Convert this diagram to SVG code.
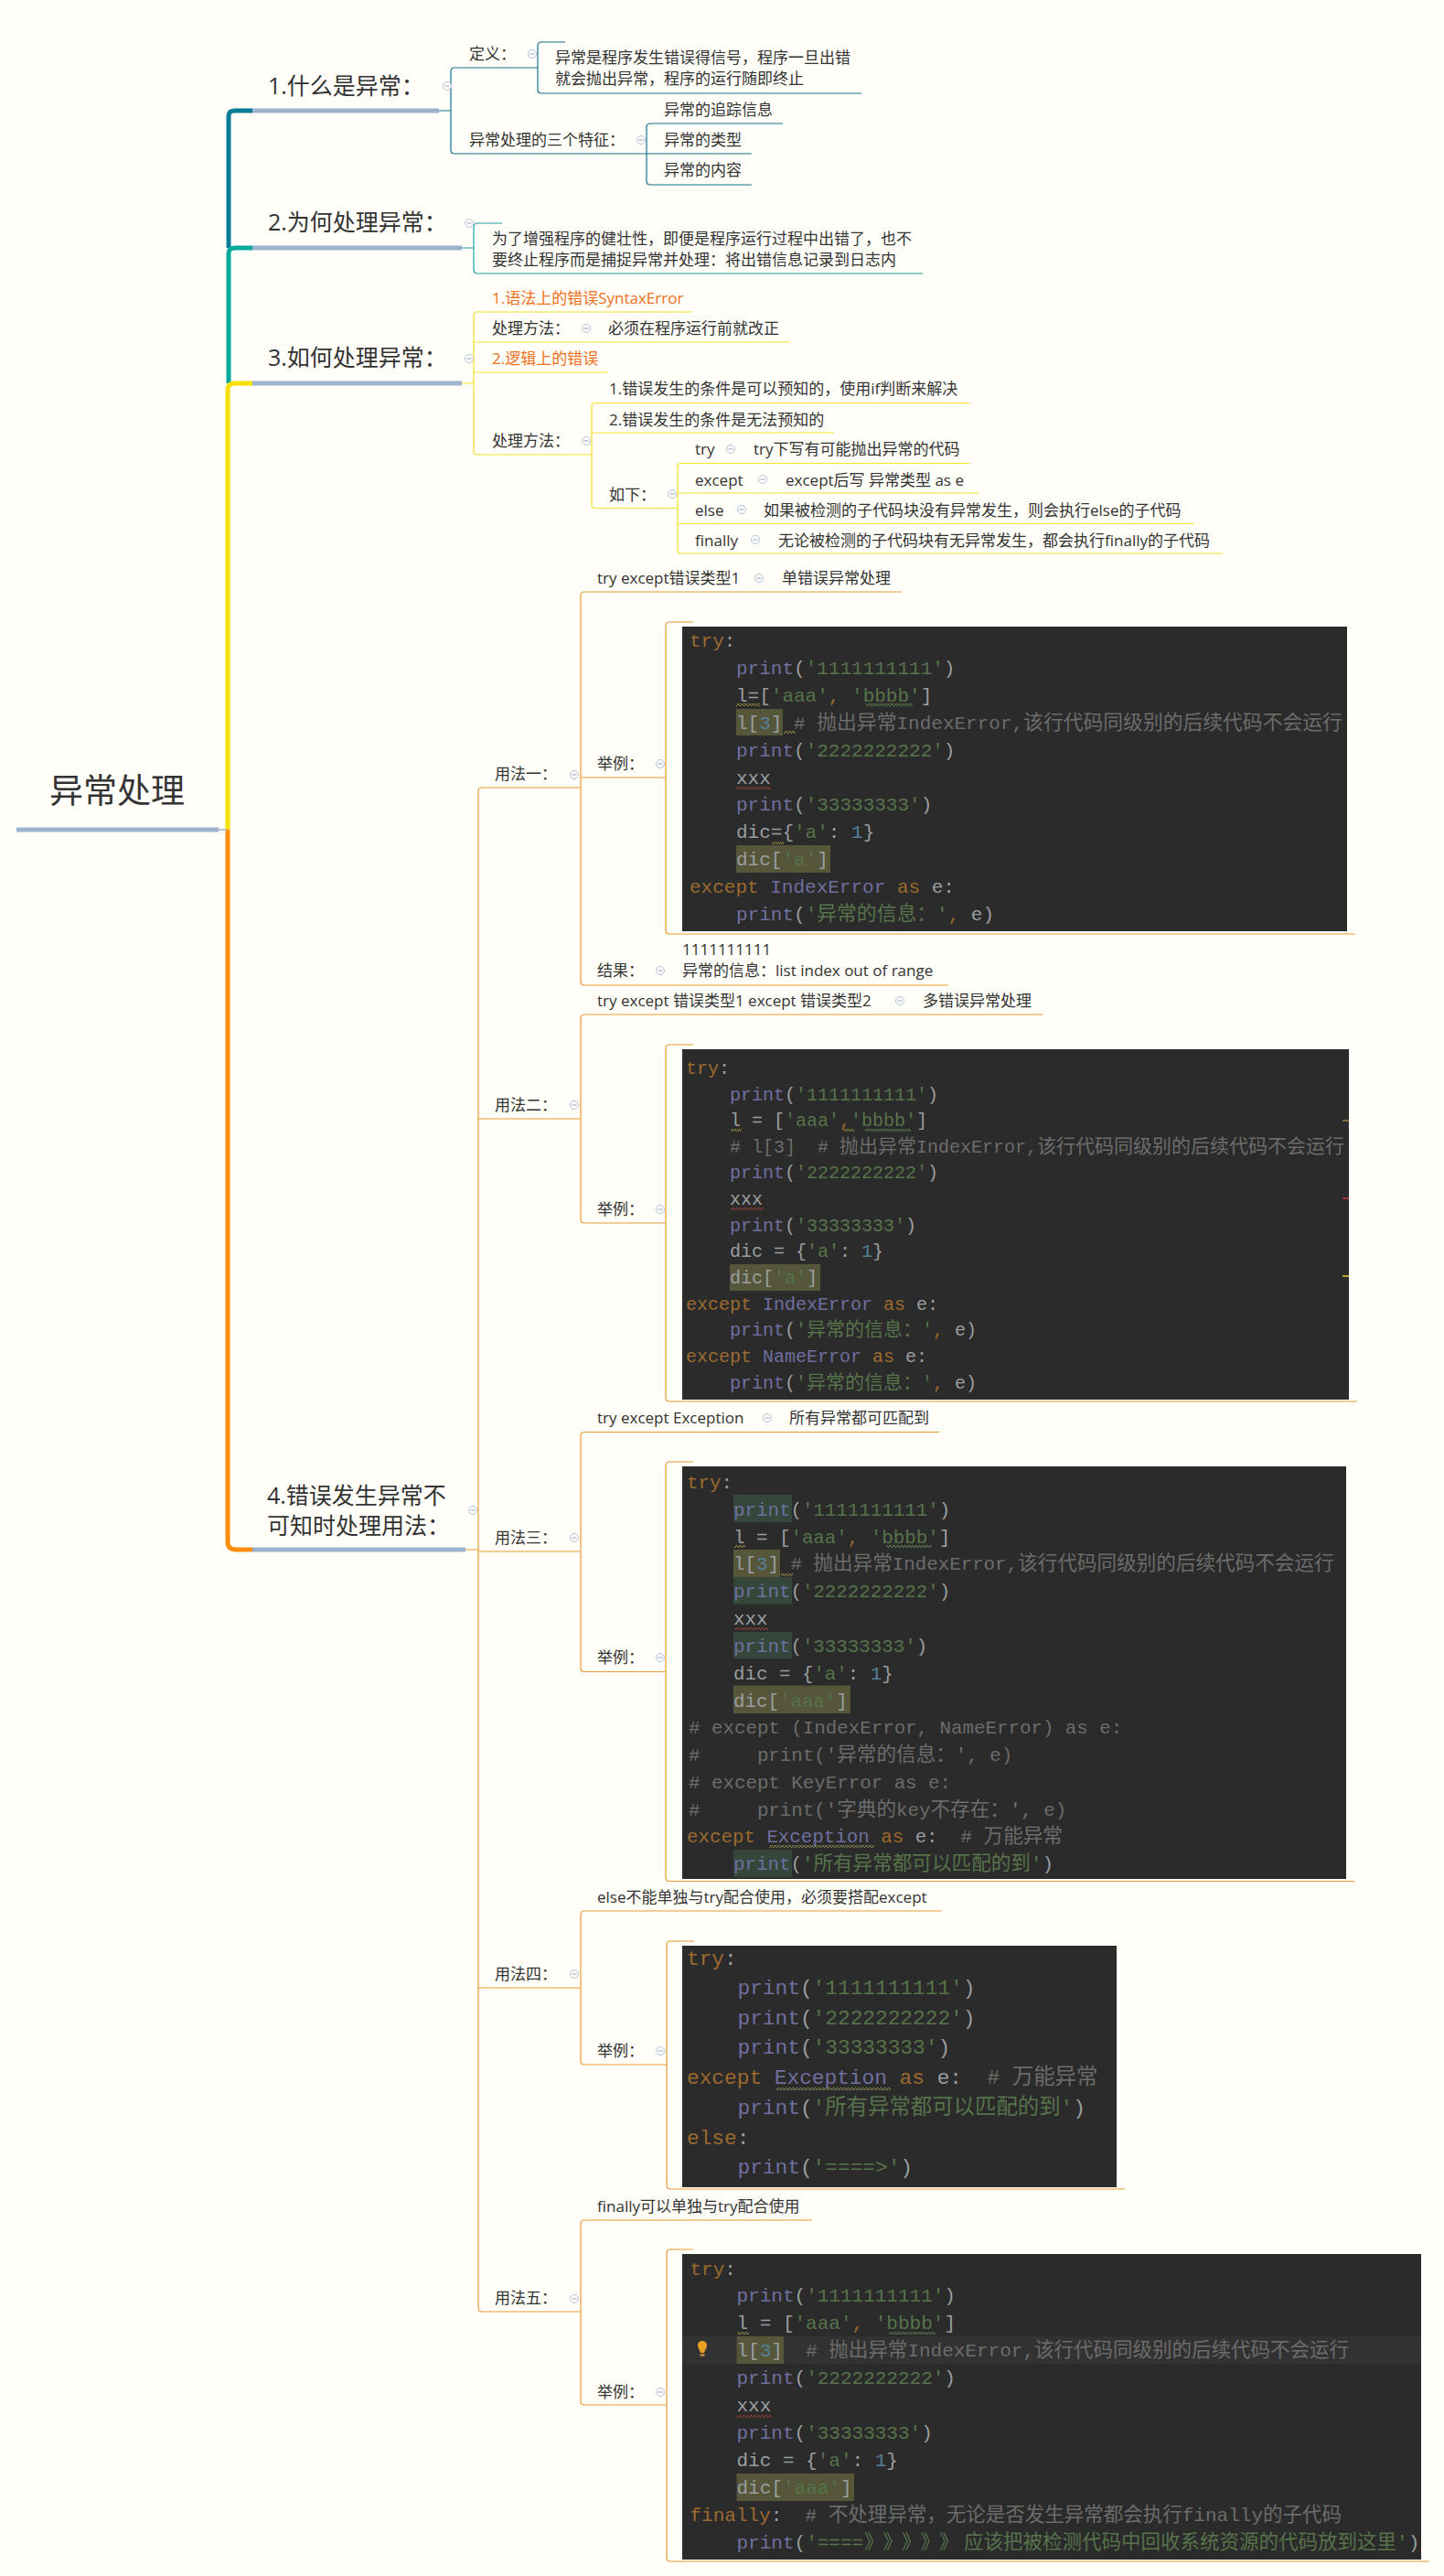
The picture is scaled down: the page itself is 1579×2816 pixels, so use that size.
<svg xmlns="http://www.w3.org/2000/svg" width="1579" height="2816" viewBox="0 0 1579 2816">
<style>
text{font-family:"Open Sans","Noto Sans CJK SC",sans-serif;fill:#333;font-size:17px;white-space:pre}
.root{font-size:37px}
.t{font-size:25px}
.o{fill:#f0701e}
.u{fill:#9db2cc}
.f{fill:none;stroke-width:1.2}
.c-a{stroke:#15728c}.c-b{stroke:#1f9ea2}.c-c{stroke:#f5e02a}.c-d{stroke:#e89a33}
.ic circle{fill:#fffef8;stroke:#b4c3e0;stroke-width:1}
.ic path{stroke:#8fa3cc;stroke-width:1;fill:none}
.cd{fill:#2b2b2b}
.code text{font-family:"Liberation Mono","Noto Sans CJK SC",monospace;fill:#9a9ea0}
.c1 text{font-size:21px}.c1 .z{font-size:21.8px}
.c2 text{font-size:20px}.c2 .z{font-size:21px}
.c3 text{font-size:20.8px}.c3 .z{font-size:21.6px}
.c4 text{font-size:22.8px}.c4 .z{font-size:23.4px}
.c5 text{font-size:21px}.c5 .z{font-size:21.5px}
.code .k{fill:#9c6a2f}.code .p{fill:#6f6f9f}.code .s{fill:#56734a}.code .m{fill:#6c6c6c}.code .b{fill:#56809a}
.code tspan.z{font-family:"Noto Sans CJK SC",sans-serif}
.hy{fill:#55563a}.hg{fill:#34473a}
</style>
<defs>
<pattern id="sy" width="4" height="3" patternUnits="userSpaceOnUse"><path d="M0 2.500L1 .5 2 .5 3 2.500 4 2.500" fill="none" stroke="#b8a84a" stroke-width=".8"/></pattern>
<pattern id="sg" width="4" height="3" patternUnits="userSpaceOnUse"><path d="M0 2.500L1 .5 2 .5 3 2.500 4 2.500" fill="none" stroke="#6f9a5c" stroke-width=".8"/></pattern>
<pattern id="sr" width="4" height="3" patternUnits="userSpaceOnUse"><path d="M0 2.500L1 .5 2 .5 3 2.500 4 2.500" fill="none" stroke="#b04238" stroke-width=".8"/></pattern>
<pattern id="sb" width="4" height="3" patternUnits="userSpaceOnUse"><path d="M0 2.500L1 .5 2 .5 3 2.500 4 2.500" fill="none" stroke="#a8a860" stroke-width=".8"/></pattern>
<g id="mi" class="ic"><circle r="4.500"/><path d="M-2.500 0H2.500"/></g>
</defs>
<rect width="1579" height="2816" fill="#fffef8"/>

<g id="connectors">
<path d="M250 271V127Q250 121 257 121H276" fill="none" stroke="#0b7c96" stroke-width="5"/>
<path d="M250 419V277Q250 271 257 271H276" fill="none" stroke="#00a99d" stroke-width="5"/>
<path d="M249 907V426Q249 419 257 419H276" fill="none" stroke="#f5e000" stroke-width="5"/>
<path d="M249 907V1686Q249 1694 258 1694H276" fill="none" stroke="#ff8c0a" stroke-width="5"/>
<path d="M239 907H248" fill="none" stroke="#9db2cc" stroke-width="1.500"/>

<g class="f c-a">
<path d="M480 121H493M493 78V164Q493 168 497 168H707M493 121V78Q493 74 497 74H588"/>
<path d="M618 46H592Q588 46 588 50V98Q588 102 592 102H942"/>
<path d="M856 135H711Q707 135 707 139V198Q707 202 711 202H822M707 168H822"/>
</g>
<g class="f c-b">
<path d="M505 271H518M549 244H522Q518 244 518 248V295Q518 299 522 299H1009"/>
</g>
<g class="f c-c">
<path d="M505 419H518M757 341H522Q518 341 518 345V493Q518 497 522 497H647M518 374H863M518 407H665"/>
<path d="M1060 440.500H651Q647 440.500 647 444.500V551.500Q647 555.500 651 555.500H741M647 473H912"/>
<path d="M1061 506.500H745Q741 506.500 741 510.500V601Q741 605 745 605H1337M741 539H1070M741 572.500H1306"/>
</g>
<g class="f c-d">
<path d="M509 1694H523M634 861H527Q523 861 523 865V2523Q523 2527 527 2527H634M523 1223H634M523 1696H634M523 2173H634"/>
<path d="M986 647H639Q635 647 635 651V1073Q635 1077 639 1077H1037M635 850H728"/>
<path d="M758 680H732Q728 680 728 684V1017Q728 1021 732 1021H1482"/>
<path d="M1140 1109H639Q635 1109 635 1113V1333Q635 1337 639 1337H728"/>
<path d="M758 1142H732Q728 1142 728 1146V1528Q728 1532 732 1532H1484"/>
<path d="M1027 1565.500H639Q635 1565.500 635 1569.500V1823.500Q635 1827.500 639 1827.500H728"/>
<path d="M758 1598H732Q728 1598 728 1602V2052.500Q728 2056.500 732 2056.500H1481"/>
<path d="M1030 2089H639Q635 2089 635 2093V2253Q635 2257 639 2257H729"/>
<path d="M759 2122H733Q729 2122 729 2126V2389Q729 2393 733 2393H1230"/>
<path d="M888 2427H639Q635 2427 635 2431V2625Q635 2629 639 2629H728.500"/>
<path d="M758 2459H733Q729 2459 729 2463V2796Q729 2800 733 2800H1563"/>
</g>
</g>

<g id="root"><rect x="18" y="904.500" width="221" height="5" class="u"/><text class="root" x="54" y="878">异常处理</text></g>

<g id="n1"><rect x="276" y="118.500" width="204" height="5" class="u"/><text class="t" x="293" y="103">1.什么是异常：</text><use href="#mi" x="489" y="94"/></g>
<g id="n1a"><text x="513" y="65">定义：</text><use href="#mi" x="582" y="59"/></g>
<g id="n1a1"><text x="607" y="69">异常是程序发生错误得信号，程序一旦出错</text><text x="607" y="92">就会抛出异常，程序的运行随即终止</text></g>
<g id="n1b"><text x="513" y="159">异常处理的三个特征：</text><use href="#mi" x="701" y="153"/></g>
<g id="n1b1"><text x="726" y="126">异常的追踪信息</text></g>
<g id="n1b2"><text x="726" y="159">异常的类型</text></g>
<g id="n1b3"><text x="726" y="192">异常的内容</text></g>

<g id="n2"><rect x="276" y="268.500" width="229" height="5" class="u"/><text class="t" x="293" y="252">2.为何处理异常：</text><use href="#mi" x="513" y="244"/></g>
<g id="n2a"><text x="538" y="267">为了增强程序的健壮性，即便是程序运行过程中出错了，也不</text><text x="538" y="290">要终止程序而是捕捉异常并处理：将出错信息记录到日志内</text></g>

<g id="n3"><rect x="276" y="416.500" width="229" height="5" class="u"/><text class="t" x="293" y="400">3.如何处理异常：</text><use href="#mi" x="513" y="392"/></g>
<g id="n3a"><text class="o" x="538" y="332">1.语法上的错误SyntaxError</text></g>
<g id="n3b"><text x="538" y="365">处理方法：</text><use href="#mi" x="641" y="359"/><text x="665" y="365">必须在程序运行前就改正</text></g>
<g id="n3c"><text class="o" x="538" y="398">2.逻辑上的错误</text></g>
<g id="n3d"><text x="538" y="488">处理方法：</text><use href="#mi" x="641" y="482"/></g>
<g id="n3d1"><text x="666" y="431">1.错误发生的条件是可以预知的，使用if判断来解决</text></g>
<g id="n3d2"><text x="666" y="465">2.错误发生的条件是无法预知的</text></g>
<g id="n3d3"><text x="666" y="547">如下：</text><use href="#mi" x="735" y="540"/></g>
<g id="n3e1"><text x="760" y="497">try</text><use href="#mi" x="799" y="491"/><text x="824" y="497">try下写有可能抛出异常的代码</text></g>
<g id="n3e2"><text x="760" y="531">except</text><use href="#mi" x="834" y="524"/><text x="859" y="531">except后写 异常类型 as e</text></g>
<g id="n3e3"><text x="760" y="564">else</text><use href="#mi" x="811" y="557"/><text x="835" y="564">如果被检测的子代码块没有异常发生，则会执行else的子代码</text></g>
<g id="n3e4"><text x="760" y="597">finally</text><use href="#mi" x="826" y="590"/><text x="851" y="597">无论被检测的子代码块有无异常发生，都会执行finally的子代码</text></g>

<g id="n4"><rect x="276" y="1691.500" width="233" height="5" class="u"/><text class="t" x="292" y="1644">4.错误发生异常不</text><text class="t" x="292" y="1677">可知时处理用法：</text><use href="#mi" x="517" y="1651"/></g>

<g id="u1"><text x="541" y="852">用法一：</text><use href="#mi" x="628" y="847"/></g>
<g id="u1a"><text x="653" y="638">try except错误类型1</text><use href="#mi" x="830" y="632"/><text x="855" y="638">单错误异常处理</text></g>
<g id="u1b"><text x="653" y="841">举例：</text><use href="#mi" x="722" y="835"/></g>
<g id="u1img" class="code c1">
<rect class="cd" x="746" y="685" width="727" height="333"/>
<rect class="hy" x="805" y="775" width="51" height="29"/>
<rect class="hy" x="805" y="924" width="103" height="30"/>
<rect x="805" y="769" width="26" height="3" fill="url(#sy)"/><rect x="947" y="769" width="51" height="3" fill="url(#sg)"/>
<rect x="857" y="799" width="13" height="3" fill="url(#sy)"/><rect x="805" y="860" width="38" height="3" fill="url(#sr)"/><rect x="844" y="920" width="13" height="3" fill="url(#sy)"/>
<g transform="translate(0 1)">
<text x="754" y="706"><tspan class="k">try</tspan>:</text>
<text x="805" y="736"><tspan class="p">print</tspan>(<tspan class="s">'1111111111'</tspan>)</text>
<text x="805" y="766">l=[<tspan class="s">'aaa'</tspan><tspan class="k">,</tspan> <tspan class="s">'bbbb'</tspan>]</text>
<text x="805" y="796">l[<tspan class="b">3</tspan>] <tspan class="m"># <tspan class="z">抛出异常</tspan>IndexError,<tspan class="z">该行代码同级别的后续代码不会运行</tspan></tspan></text>
<text x="805" y="826"><tspan class="p">print</tspan>(<tspan class="s">'2222222222'</tspan>)</text>
<text x="805" y="856">xxx</text>
<text x="805" y="885"><tspan class="p">print</tspan>(<tspan class="s">'33333333'</tspan>)</text>
<text x="805" y="915">dic={<tspan class="s">'a'</tspan>: <tspan class="b">1</tspan>}</text>
<text x="805" y="945">dic[<tspan class="s">'a'</tspan>]</text>
<text x="754" y="975"><tspan class="k">except</tspan> <tspan class="p">IndexError</tspan> <tspan class="k">as</tspan> e:</text>
<text x="805" y="1005"><tspan class="p">print</tspan>(<tspan class="s">'<tspan class="z">异常的信息：</tspan>'</tspan><tspan class="k">,</tspan> e)</text>
</g>
</g>
<g id="u1c"><text x="653" y="1067">结果：</text><use href="#mi" x="722" y="1061"/><text x="746" y="1044">1111111111</text><text x="746" y="1067">异常的信息：list index out of range</text></g>

<g id="u2"><text x="541" y="1214">用法二：</text><use href="#mi" x="628" y="1208"/></g>
<g id="u2a"><text x="653" y="1100">try except 错误类型1 except 错误类型2</text><use href="#mi" x="984" y="1094"/><text x="1009" y="1100">多错误异常处理</text></g>
<g id="u2b"><text x="653" y="1328">举例：</text><use href="#mi" x="722" y="1322"/></g>
<g id="u2img" class="code c2">
<rect class="cd" x="746" y="1147" width="729" height="383"/>
<rect class="hy" x="798" y="1382" width="99" height="29"/>
<rect x="1468" y="1224" width="7" height="2" fill="#7d6a3a"/><rect x="1468" y="1309" width="7" height="2" fill="#a8352d"/><rect x="1468" y="1394" width="7" height="2" fill="#b8a52a"/>
<rect x="799" y="1234" width="12" height="3" fill="url(#sy)"/><rect x="922" y="1234" width="12" height="3" fill="url(#sy)"/><rect x="946" y="1234" width="50" height="3" fill="url(#sg)"/><rect x="799" y="1320" width="36" height="3" fill="url(#sr)"/>
<text x="750" y="1174"><tspan class="k">try</tspan>:</text>
<text x="798" y="1203"><tspan class="p">print</tspan>(<tspan class="s">'1111111111'</tspan>)</text>
<text x="798" y="1231">l = [<tspan class="s">'aaa'</tspan><tspan class="k">,</tspan><tspan class="s">'bbbb'</tspan>]</text>
<text x="798" y="1260"><tspan class="m"># l[3]  # <tspan class="z">抛出异常</tspan>IndexError,<tspan class="z">该行代码同级别的后续代码不会运行</tspan></tspan></text>
<text x="798" y="1288"><tspan class="p">print</tspan>(<tspan class="s">'2222222222'</tspan>)</text>
<text x="798" y="1317">xxx</text>
<text x="798" y="1346"><tspan class="p">print</tspan>(<tspan class="s">'33333333'</tspan>)</text>
<text x="798" y="1374">dic = {<tspan class="s">'a'</tspan>: <tspan class="b">1</tspan>}</text>
<text x="798" y="1403">dic[<tspan class="s">'a'</tspan>]</text>
<text x="750" y="1432"><tspan class="k">except</tspan> <tspan class="p">IndexError</tspan> <tspan class="k">as</tspan> e:</text>
<text x="798" y="1460"><tspan class="p">print</tspan>(<tspan class="s">'<tspan class="z">异常的信息：</tspan>'</tspan><tspan class="k">,</tspan> e)</text>
<text x="750" y="1489"><tspan class="k">except</tspan> <tspan class="p">NameError</tspan> <tspan class="k">as</tspan> e:</text>
<text x="798" y="1518"><tspan class="p">print</tspan>(<tspan class="s">'<tspan class="z">异常的信息：</tspan>'</tspan><tspan class="k">,</tspan> e)</text>
</g>

<g id="u3"><text x="541" y="1687">用法三：</text><use href="#mi" x="628" y="1681"/></g>
<g id="u3a"><text x="653" y="1556">try except Exception</text><use href="#mi" x="839" y="1550"/><text x="863" y="1556">所有异常都可匹配到</text></g>
<g id="u3b"><text x="653" y="1818">举例：</text><use href="#mi" x="722" y="1812"/></g>
<g id="u3img" class="code c3">
<rect class="cd" x="746" y="1603" width="726" height="451"/>
<rect class="hg" x="802" y="1634" width="64" height="30"/><rect class="hy" x="802" y="1694" width="51" height="30"/><rect class="hg" x="802" y="1724" width="64" height="29.500"/><rect class="hg" x="802" y="1784" width="64" height="29"/><rect class="hy" x="802" y="1842.500" width="128" height="30.500"/><rect class="hg" x="802" y="2022" width="64" height="30"/>
<rect x="803" y="1689" width="12" height="3" fill="url(#sy)"/><rect x="969" y="1689" width="50" height="3" fill="url(#sg)"/><rect x="854" y="1720" width="13" height="3" fill="url(#sy)"/><rect x="803" y="1779" width="37" height="3" fill="url(#sr)"/><rect x="841" y="2017" width="115" height="3" fill="url(#sb)"/>
<text x="751" y="1627"><tspan class="k">try</tspan>:</text>
<text x="802" y="1657"><tspan class="p">print</tspan>(<tspan class="s">'1111111111'</tspan>)</text>
<text x="802" y="1687">l = [<tspan class="s">'aaa'</tspan><tspan class="k">,</tspan> <tspan class="s">'bbbb'</tspan>]</text>
<text x="802" y="1716">l[<tspan class="b">3</tspan>] <tspan class="m"># <tspan class="z">抛出异常</tspan>IndexError,<tspan class="z">该行代码同级别的后续代码不会运行</tspan></tspan></text>
<text x="802" y="1746"><tspan class="p">print</tspan>(<tspan class="s">'2222222222'</tspan>)</text>
<text x="802" y="1776">xxx</text>
<text x="802" y="1806"><tspan class="p">print</tspan>(<tspan class="s">'33333333'</tspan>)</text>
<text x="802" y="1836">dic = {<tspan class="s">'a'</tspan>: <tspan class="b">1</tspan>}</text>
<text x="802" y="1866">dic[<tspan class="s">'aaa'</tspan>]</text>
<text x="753" y="1895" class="m"># except (IndexError, NameError) as e:</text>
<text x="753" y="1925" class="m">#     print('<tspan class="z">异常的信息：</tspan>', e)</text>
<text x="753" y="1955" class="m"># except KeyError as e:</text>
<text x="753" y="1985" class="m">#     print('<tspan class="z">字典的</tspan>key<tspan class="z">不存在：</tspan>', e)</text>
<text x="751" y="2014"><tspan class="k">except</tspan> <tspan class="p">Exception</tspan> <tspan class="k">as</tspan> e:  <tspan class="m"># <tspan class="z">万能异常</tspan></tspan></text>
<text x="802" y="2044"><tspan class="p">print</tspan>(<tspan class="s">'<tspan class="z">所有异常都可以匹配的到</tspan>'</tspan>)</text>
</g>

<g id="u4"><text x="541" y="2164">用法四：</text><use href="#mi" x="628" y="2158"/></g>
<g id="u4a"><text x="653" y="2080">else不能单独与try配合使用，必须要搭配except</text></g>
<g id="u4b"><text x="653" y="2248">举例：</text><use href="#mi" x="722" y="2242"/></g>
<g id="u4img" class="code c4">
<rect class="cd" x="746" y="2127" width="475" height="264"/>
<rect x="849" y="2282" width="125" height="3" fill="url(#sb)"/>
<text x="751" y="2148"><tspan class="k">try</tspan>:</text>
<text x="806.500" y="2180"><tspan class="p">print</tspan>(<tspan class="s">'1111111111'</tspan>)</text>
<text x="806.500" y="2213"><tspan class="p">print</tspan>(<tspan class="s">'2222222222'</tspan>)</text>
<text x="806.500" y="2245"><tspan class="p">print</tspan>(<tspan class="s">'33333333'</tspan>)</text>
<text x="751" y="2278"><tspan class="k">except</tspan> <tspan class="p">Exception</tspan> <tspan class="k">as</tspan> e:  <tspan class="m"># <tspan class="z">万能异常</tspan></tspan></text>
<text x="806.500" y="2311"><tspan class="p">print</tspan>(<tspan class="s">'<tspan class="z">所有异常都可以匹配的到</tspan>'</tspan>)</text>
<text x="751" y="2344"><tspan class="k">else</tspan>:</text>
<text x="806.500" y="2376"><tspan class="p">print</tspan>(<tspan class="s">'====&gt;'</tspan>)</text>
</g>

<g id="u5"><text x="541" y="2518">用法五：</text><use href="#mi" x="628" y="2513"/></g>
<g id="u5a"><text x="653" y="2418">finally可以单独与try配合使用</text></g>
<g id="u5b"><text x="653" y="2621">举例：</text><use href="#mi" x="722" y="2615"/></g>
<g id="u5img" class="code c5">
<rect class="cd" x="746" y="2464" width="808" height="334"/>
<rect x="746" y="2554" width="808" height="30" fill="#323232"/>
<rect class="hy" x="805.500" y="2554" width="51.500" height="30"/>
<rect class="hy" x="805.500" y="2704" width="128.500" height="30"/>
<path d="M768 2559c-3.500 0-5 2.500-5 5 0 3 2.500 5 2.700 8h4.600c.2-3 2.700-5 2.700-8 0-2.500-1.500-5-5-5z" fill="#e8a020"/><rect x="765.500" y="2573" width="5" height="3" fill="#b08040"/>
<rect x="806" y="2549" width="13" height="3" fill="url(#sy)"/><rect x="972" y="2549" width="51" height="3" fill="url(#sg)"/><rect x="806" y="2640" width="38" height="3" fill="url(#sr)"/>
<text x="754.500" y="2487"><tspan class="k">try</tspan>:</text>
<text x="805.500" y="2516"><tspan class="p">print</tspan>(<tspan class="s">'1111111111'</tspan>)</text>
<text x="805.500" y="2546">l = [<tspan class="s">'aaa'</tspan><tspan class="k">,</tspan> <tspan class="s">'bbbb'</tspan>]</text>
<text x="805.500" y="2576">l[<tspan class="b">3</tspan>]  <tspan class="m"># <tspan class="z">抛出异常</tspan>IndexError,<tspan class="z">该行代码同级别的后续代码不会运行</tspan></tspan></text>
<text x="805.500" y="2606"><tspan class="p">print</tspan>(<tspan class="s">'2222222222'</tspan>)</text>
<text x="805.500" y="2636">xxx</text>
<text x="805.500" y="2666"><tspan class="p">print</tspan>(<tspan class="s">'33333333'</tspan>)</text>
<text x="805.500" y="2696">dic = {<tspan class="s">'a'</tspan>: <tspan class="b">1</tspan>}</text>
<text x="805.500" y="2726">dic[<tspan class="s">'aaa'</tspan>]</text>
<text x="754.500" y="2756"><tspan class="k">finally</tspan>:  <tspan class="m"># <tspan class="z">不处理异常，无论是否发生异常都会执行</tspan>finally<tspan class="z">的子代码</tspan></tspan></text>
<text x="805.500" y="2786"><tspan class="p">print</tspan>(<tspan class="s">'====<tspan class="z" x="945 965.500 986 1006.500 1027 1054">》》》》》应</tspan><tspan class="z">该把被检测代码中回收系统资源的代码放到这里</tspan>'</tspan>)</text>
</g>
</svg>
